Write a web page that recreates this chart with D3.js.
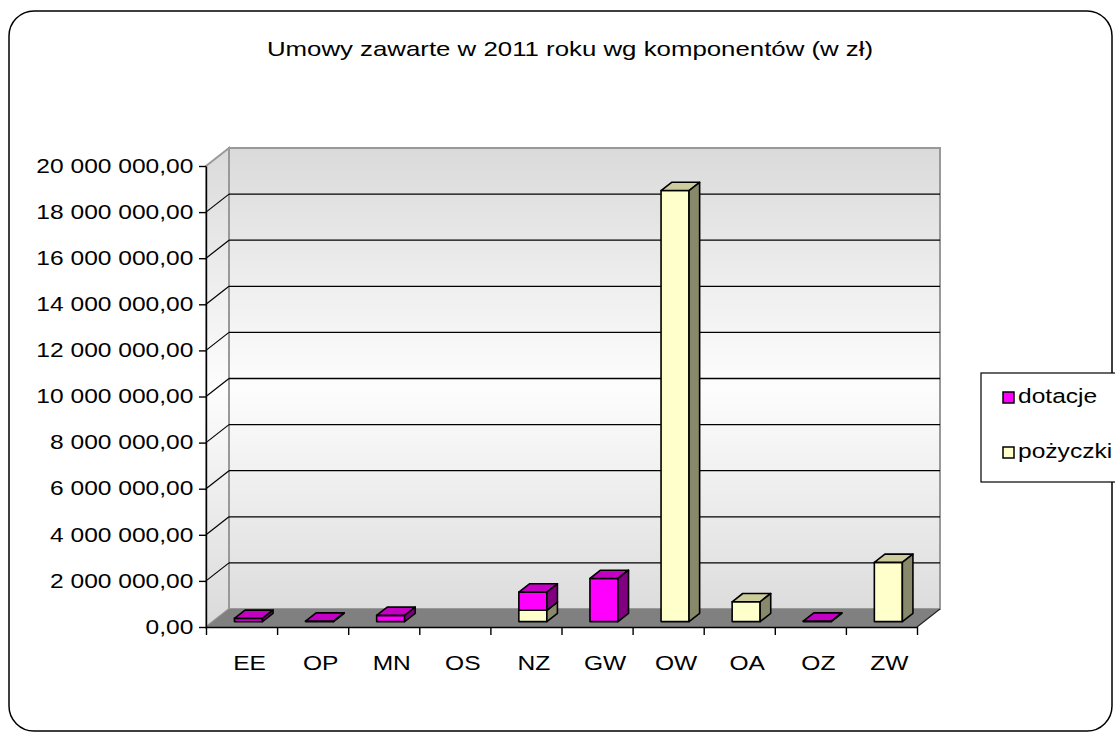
<!DOCTYPE html>
<html>
<head>
<meta charset="utf-8">
<script src="https://cdn.jsdelivr.net/npm/d3@7"></script>
<style>
  body { margin: 0; background: #fff; }
  svg { display: block; }
</style>
</head>
<body>
<svg width="1115" height="733"></svg>
<script>
// data
const categories = ["EE", "OP", "MN", "OS", "NZ", "GW", "OW", "OA", "OZ", "ZW"];
const dotacje  = [140000, 20000, 270000, 0, 790000, 1870000, 0, 0, 20000, 0];
const pozyczki = [0, 0, 0, 0, 490000, 0, 18700000, 860000, 0, 2570000];
const yTicks = [0, 2e6, 4e6, 6e6, 8e6, 10e6, 12e6, 14e6, 16e6, 18e6, 20e6];
const seriesNames = ["dotacje", "pożyczki"];

const fontFam = "'Liberation Sans', Arial, sans-serif";
const sx = 1.26;          // picture is stretched sideways
const depX = 23, depY = -18;
const f0 = 0.3, fd = 0.46; // bar depth position
const barW = 28;

const colors = {
    "dotacje":  { front: "#ff00ff", top: "#c400c4", side: "#800080" },
    "pożyczki": { front: "#ffffcc", top: "#cccc9c", side: "#88886a" }
};

const svg = d3.select("svg");
const fmt = d3.formatLocale({ decimal: ",", thousands: " ", grouping: [3], currency: ["", " zł"] }).format(",.2f");

const x = d3.scaleBand().domain(categories).range([206, 917]).padding(0);
const xTick = d3.scaleLinear().domain([0, categories.length]).range([206, 917]);
const y = d3.scaleLinear().domain([0, 20e6]).range([627, 166]);

// gradient for walls
const defs = svg.append("defs");
const grad = defs.append("linearGradient")
    .attr("id", "wall")
    .attr("gradientUnits", "userSpaceOnUse")
    .attr("x1", 0).attr("y1", 148).attr("x2", 0).attr("y2", 627);
grad.append("stop").attr("offset", "0").attr("stop-color", "#dadada");
grad.append("stop").attr("offset", "0.5").attr("stop-color", "#fdfdfd");
grad.append("stop").attr("offset", "1").attr("stop-color", "#dadada");

// outer frame
svg.append("rect")
    .attr("x", 9).attr("y", 11)
    .attr("width", 1103).attr("height", 720)
    .attr("rx", 25).attr("ry", 25)
    .attr("fill", "#fff")
    .attr("stroke", "#000")
    .attr("stroke-width", 1.5);

// title
svg.append("text")
    .attr("transform", `translate(570, 56) scale(${sx},1)`)
    .attr("text-anchor", "middle")
    .attr("font-family", fontFam)
    .attr("font-size", "20.5px")
    .text("Umowy zawarte w 2011 roku wg komponentów (w zł)");

const g = svg.append("g");
const x0 = 206, x1 = 917, yb = y(0), ytop = y(20e6);

// back wall
g.append("rect")
    .attr("x", x0 + depX).attr("y", ytop + depY)
    .attr("width", x1 - x0).attr("height", yb - ytop)
    .attr("fill", "url(#wall)")
    .attr("stroke", "#999")
    .attr("stroke-width", 2);

// side wall
g.append("path")
    .attr("d", d3.line()([[x0, ytop], [x0 + depX, ytop + depY], [x0 + depX, yb + depY], [x0, yb]]) + "Z")
    .attr("fill", "url(#wall)")
    .attr("stroke", "#999")
    .attr("stroke-width", 2);

// floor
g.append("path")
    .attr("d", d3.line()([[x0, yb], [x1, yb], [x1 + depX, yb + depY], [x0 + depX, yb + depY]]) + "Z")
    .attr("fill", "#808080");
g.append("line")
    .attr("x1", x1).attr("y1", yb).attr("x2", x1 + depX).attr("y2", yb + depY)
    .attr("stroke", "#222").attr("stroke-width", 1.2);

// gridlines
const gridVals = yTicks.filter(v => v > 0 && v < 20e6);
g.selectAll(".gb").data(gridVals).enter().append("line")
    .attr("x1", x0 + depX).attr("x2", x1 + depX)
    .attr("y1", d => y(d) + depY).attr("y2", d => y(d) + depY)
    .attr("stroke", "#000").attr("stroke-width", 1.3);
g.selectAll(".gs").data(gridVals).enter().append("line")
    .attr("x1", x0).attr("x2", x0 + depX)
    .attr("y1", d => y(d)).attr("y2", d => y(d) + depY)
    .attr("stroke", "#000").attr("stroke-width", 1.2);

// bars
const segs = [];
categories.forEach((c, i) => {
    if (pozyczki[i] > 0) segs.push({ cat: c, s: "pożyczki", v0: 0, v1: pozyczki[i] });
    if (dotacje[i] > 0) segs.push({ cat: c, s: "dotacje", v0: pozyczki[i], v1: pozyczki[i] + dotacje[i] });
});
const ddx = depX * fd, ddy = depY * fd;
const bars = g.selectAll(".bar").data(segs).enter().append("g");
bars.each(function (d) {
    const b = d3.select(this);
    const bx = x(d.cat) + (x.bandwidth() - barW) / 2 + depX * f0;
    const yB = y(d.v0) + depY * f0;
    const yT = y(d.v1) + depY * f0;
    const col = colors[d.s];
    b.append("rect")
        .attr("x", bx).attr("y", yT)
        .attr("width", barW).attr("height", yB - yT)
        .attr("fill", col.front);
    b.append("path")
        .attr("d", d3.line()([[bx, yT], [bx + barW, yT], [bx + barW + ddx, yT + ddy], [bx + ddx, yT + ddy]]) + "Z")
        .attr("fill", col.top);
    b.append("path")
        .attr("d", d3.line()([[bx + barW, yT], [bx + barW + ddx, yT + ddy], [bx + barW + ddx, yB + ddy], [bx + barW, yB]]) + "Z")
        .attr("fill", col.side);
    b.selectAll("rect, path")
        .attr("stroke", "#000")
        .attr("stroke-width", 1.6)
        .attr("stroke-linejoin", "round");
});

// y axis
const yAxis = svg.append("g")
    .attr("transform", `translate(${x0},0)`)
    .call(d3.axisLeft(y).tickValues(yTicks).tickFormat(fmt).tickSize(7).tickSizeOuter(0).tickPadding(3));
yAxis.selectAll("text")
    .attr("font-family", fontFam)
    .attr("font-size", "19.5px")
    .attr("fill", "#000")
    .attr("transform", `scale(${sx},1)`);
yAxis.selectAll("line, path").attr("stroke", "#000").attr("stroke-width", 1.4);

// x axis
const xAxis = svg.append("g")
    .attr("transform", `translate(0,${yb})`)
    .call(d3.axisBottom(xTick).tickValues(d3.range(categories.length + 1)).tickFormat("").tickSize(8).tickSizeOuter(0));
xAxis.selectAll("line, path").attr("stroke", "#000").attr("stroke-width", 1.4);

svg.append("g").selectAll("text").data(categories).enter().append("text")
    .attr("transform", d => `translate(${x(d) + x.bandwidth() / 2 + 8}, 670) scale(${sx},1)`)
    .attr("text-anchor", "middle")
    .attr("font-family", fontFam)
    .attr("font-size", "19.5px")
    .text(d => d);

// legend
const lg = svg.append("g");
lg.append("rect")
    .attr("x", 981).attr("y", 373)
    .attr("width", 200).attr("height", 109)
    .attr("fill", "#fff")
    .attr("stroke", "#000")
    .attr("stroke-width", 1.2);
const items = lg.selectAll(".item").data(seriesNames).enter().append("g")
    .attr("transform", (d, i) => `translate(1003, ${392 + i * 55})`);
items.append("rect")
    .attr("width", 11).attr("height", 11)
    .attr("fill", d => colors[d].front)
    .attr("stroke", "#000").attr("stroke-width", 1.5);
items.append("text")
    .attr("transform", `translate(15, 11) scale(${sx},1)`)
    .attr("font-family", fontFam)
    .attr("font-size", "19.5px")
    .text(d => d);
</script>
</body>
</html>
